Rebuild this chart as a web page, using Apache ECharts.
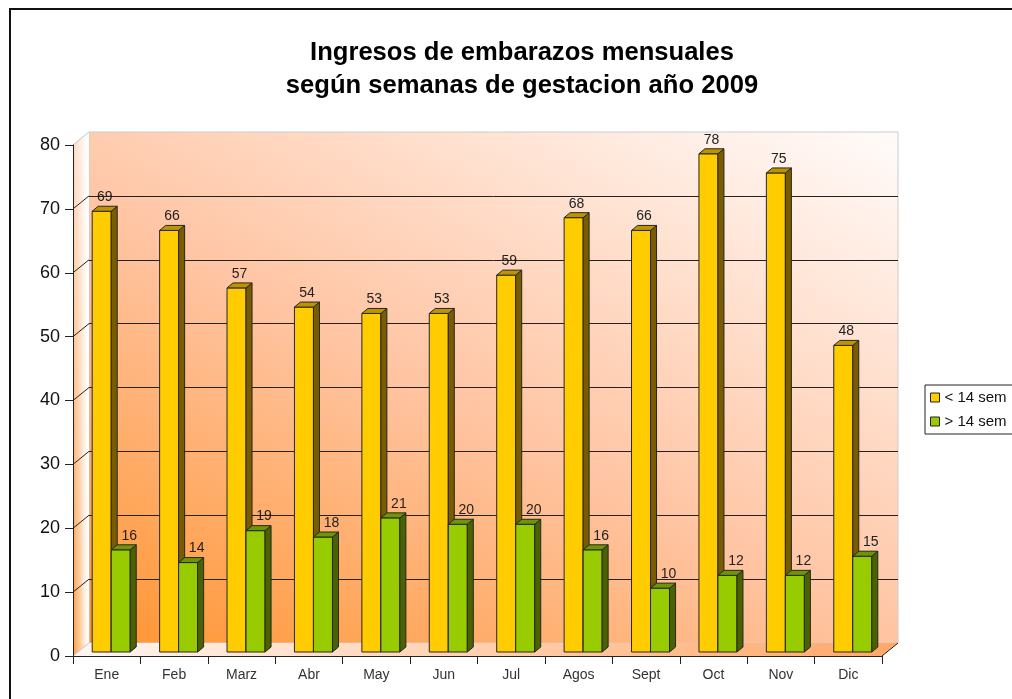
<!DOCTYPE html>
<html>
<head>
<meta charset="utf-8">
<script src="https://cdn.jsdelivr.net/npm/echarts@6/dist/echarts.min.js"></script>
<style>
  html, body { margin: 0; padding: 0; background: #fff; }
  #chart { width: 1012px; height: 699px; }
</style>
</head>
<body>
<div id="chart"></div>
<script>
// datos
const meses = ["Ene", "Feb", "Marz", "Abr", "May", "Jun", "Jul", "Agos", "Sept", "Oct", "Nov", "Dic"];
const menos14 = [69, 66, 57, 54, 53, 53, 59, 68, 66, 78, 75, 48];
const mas14 = [16, 14, 19, 18, 21, 20, 20, 16, 10, 12, 12, 15];
const yTicks = [0, 10, 20, 30, 40, 50, 60, 70, 80];

// profundidad de la "caja" 3D
const DX = 16, DY = -13;
// profundidad de cada barra
const BDX = 6, BDY = -5;

const chart = echarts.init(document.getElementById("chart"));

// barra 3d: cara frontal, lateral y superior
const bar3d = (front, top, side, isFirst) => (params, api) => {
  const idx = api.value(0);
  const v = api.value(1);
  const band = api.size([1, 0])[0];
  const pTop = api.coord([idx, v]);
  const pBase = api.coord([idx, 0]);
  const w = band * 0.282;
  const cx = pTop[0] + 4.5;
  const x0 = isFirst ? cx - w : cx;
  const x1 = x0 + w;
  const yT = pTop[1] - 4;
  const yB = pBase[1] - 4;
  const edge = { stroke: "#262626", lineWidth: 1 };
  const labelX = isFirst ? (x0 + x1 + BDX) / 2 : x1 - 1;
  return {
    type: "group",
    children: [
      { type: "rect", shape: { x: x0, y: yT, width: w, height: yB - yT }, style: Object.assign({ fill: front }, edge) },
      { type: "polygon", shape: { points: [[x1, yT], [x1 + BDX, yT + BDY], [x1 + BDX, yB + BDY], [x1, yB]] }, style: Object.assign({ fill: side }, edge) },
      { type: "polygon", shape: { points: [[x0, yT], [x0 + BDX, yT + BDY], [x1 + BDX, yT + BDY], [x1, yT]] }, style: Object.assign({ fill: top }, edge) },
      {
        type: "text",
        style: {
          text: String(v), x: labelX, y: yT + BDY - 2,
          align: "center", verticalAlign: "bottom",
          fontSize: 14, fontFamily: "Liberation Sans", fill: "#222"
        }
      }
    ]
  };
};

// paredes laterales y suelo
const marco = (params, api) => {
  const cs = params.coordSys;
  const x0 = cs.x, x1 = cs.x + cs.width;
  const yTop = api.coord([0, 80])[1];
  const yBase = api.coord([0, 0])[1];
  const children = [
    {
      type: "polygon",
      shape: { points: [[x0, yTop], [x0 + DX, yTop + DY], [x0 + DX, yBase + DY], [x0, yBase]] },
      style: { fill: new echarts.graphic.LinearGradient(0, 0, 0, 1, [
        { offset: 0, color: "#FFDCC8" }, { offset: 1, color: "#FF9A3C" }]) }
    },
    {
      type: "polygon",
      shape: { points: [[x0, yTop], [x0 + DX, yTop + DY], [x0 + DX, yBase + DY], [x0, yBase]] },
      style: { fill: new echarts.graphic.LinearGradient(0, 0, 1, 0, [
        { offset: 0, color: "rgba(255,255,255,0)" }, { offset: 0.9, color: "rgba(255,255,255,1)" }]) }
    },
    {
      type: "polygon",
      shape: { points: [[x0, yBase], [x0 + DX, yBase + DY], [x1 + DX, yBase + DY], [x1, yBase]] },
      style: { fill: new echarts.graphic.LinearGradient(1, 0, 0, 1, [
        { offset: 0, color: "#FFA868" }, { offset: 1, color: "#FFF6F2" }]) }
    },
    {
      type: "line",
      shape: { x1: x1, y1: yBase, x2: x1 + DX, y2: yBase + DY },
      style: { stroke: "#222", lineWidth: 1 }
    }
  ];
  yTicks.forEach((t) => {
    const y = api.coord([0, t])[1];
    const edgeTick = t === 0 || t === 80;
    children.push({
      type: "line",
      shape: { x1: x0, y1: y, x2: x0 + DX, y2: y + DY },
      style: { stroke: edgeTick ? "#c4c4c4" : "#222", lineWidth: 1 }
    });
  });
  return { type: "group", children };
};

chart.setOption({
  animation: false,
  textStyle: { fontFamily: "Liberation Sans, Arial, sans-serif" },
  title: {
    text: "Ingresos de embarazos mensuales\nsegún semanas de gestacion año 2009",
    left: 517,
    top: 31,
    textAlign: "center",
    textStyle: { fontSize: 25.6, fontWeight: "bold", color: "#000", lineHeight: 33 }
  },
  legend: {
    orient: "vertical",
    left: 925,
    top: 385,
    padding: [5, 40, 5, 5],
    borderColor: "#222",
    borderWidth: 1,
    itemWidth: 9,
    itemHeight: 9,
    itemGap: 9,
    icon: "rect",
    itemStyle: { borderColor: "#222", borderWidth: 1 },
    textStyle: { fontSize: 15, color: "#111" },
    data: ["< 14 sem", "> 14 sem"]
  },
  graphic: [
    {
      type: "rect",
      shape: { x: 10, y: 9, width: 1100, height: 800 },
      style: { fill: "none", stroke: "#111", lineWidth: 2 },
      silent: true
    }
  ],
  grid: [
    { left: 73, right: 130, top: 145, bottom: 43 },
    {
      left: 89, right: 114, top: 132, bottom: 56,
      show: true,
      borderColor: "#cccccc",
      borderWidth: 1,
      // degradado diagonal naranja (abajo izq.) -> blanco (arriba der.)
      backgroundColor: new echarts.graphic.LinearGradient(89, 643, 479, -87, [
        { offset: 0, color: "#FF9530" },
        { offset: 0.46, color: "#FFC4A2" },
        { offset: 1, color: "#FFFBFA" }
      ], true)
    }
  ],
  xAxis: [
    {
      type: "category",
      gridIndex: 0,
      data: meses,
      z: 5,
      axisLine: { lineStyle: { color: "#222", width: 1 } },
      axisTick: { show: true, length: 8, lineStyle: { color: "#222" } },
      axisLabel: { color: "#333", fontSize: 14, margin: 12 },
      splitLine: { show: false }
    },
    { type: "category", gridIndex: 1, data: meses, show: false }
  ],
  yAxis: [
    {
      type: "value",
      gridIndex: 0,
      min: 0,
      max: 80,
      interval: 10,
      z: 5,
      axisLine: { show: true, lineStyle: { color: "#222", width: 1 } },
      axisTick: { show: true, length: 8, lineStyle: { color: "#222" } },
      axisLabel: { color: "#111", fontSize: 18, margin: 13 },
      splitLine: { show: false }
    },
    {
      type: "value",
      gridIndex: 1,
      min: 0,
      max: 80,
      interval: 10,
      axisLine: { show: false },
      axisTick: { show: false },
      axisLabel: { show: false },
      splitLine: { show: true, showMinLine: false, showMaxLine: false, lineStyle: { color: "#222", width: 1 } }
    }
  ],
  series: [
    {
      type: "custom",
      name: "marco",
      xAxisIndex: 0,
      yAxisIndex: 0,
      z: 1,
      silent: true,
      renderItem: marco,
      data: [[0, 0]]
    },
    {
      type: "custom",
      name: "< 14 sem",
      xAxisIndex: 0,
      yAxisIndex: 0,
      z: 3,
      itemStyle: { color: "#FFCC00" },
      renderItem: bar3d("#FFCC00", "#BC9400", "#7A5C00", true),
      encode: { x: 0, y: 1 },
      data: menos14.map((v, i) => [i, v])
    },
    {
      type: "custom",
      name: "> 14 sem",
      xAxisIndex: 0,
      yAxisIndex: 0,
      z: 3,
      itemStyle: { color: "#99CC00" },
      renderItem: bar3d("#99CC00", "#6E9600", "#4A6300", false),
      encode: { x: 0, y: 1 },
      data: mas14.map((v, i) => [i, v])
    }
  ]
});

window.addEventListener("resize", () => chart.resize());
</script>
</body>
</html>
